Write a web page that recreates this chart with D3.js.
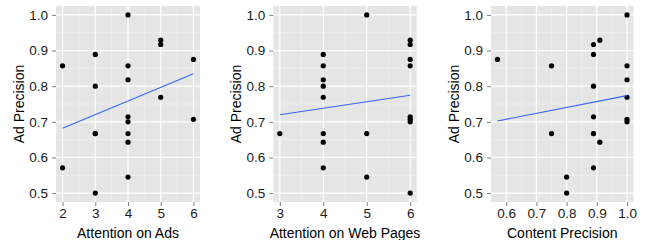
<!DOCTYPE html>
<html>
<head>
<meta charset="utf-8">
<script src="https://cdn.jsdelivr.net/npm/d3@7"></script>
<style>
  body { margin: 0; background: #fff; }
  text { font-family: "Liberation Sans", Arial, sans-serif; }
</style>
</head>
<body>
<div id="chart"></div>
<script>
// one row per participant
const adPrecision      = [1.0, 0.929, 0.917, 0.889, 0.875, 0.857, 0.857, 0.818, 0.80, 0.769,
                          0.714, 0.707, 0.70, 0.667, 0.667, 0.667, 0.643, 0.571, 0.545, 0.5];
const attentionAds     = [4, 5, 5, 3, 6, 2, 4, 4, 3, 5, 4, 6, 4, 3, 3, 4, 4, 2, 4, 3];
const attentionWeb     = [5, 6, 6, 4, 6, 4, 6, 4, 4, 4, 6, 6, 6, 3, 4, 5, 4, 4, 5, 6];
const contentPrecision = [1.0, 0.91, 0.889, 0.889, 0.571, 0.75, 1.0, 1.0, 0.889, 1.0,
                          0.889, 1.0, 1.0, 0.75, 0.889, 0.889, 0.91, 0.889, 0.8, 0.8];

const yTicks = [0.5, 0.6, 0.7, 0.8, 0.9, 1.0];
const yTitle = 'Ad Precision';

const panels = [
  { x: attentionAds, title: 'Attention on Ads', ticks: [2, 3, 4, 5, 6], fmt: d3.format('d'), left: 56, right: 200 },
  { x: attentionWeb, title: 'Attention on Web Pages', ticks: [3, 4, 5, 6], fmt: d3.format('d'), left: 273.3, right: 416.7 },
  { x: contentPrecision, title: 'Content Precision', ticks: [0.6, 0.7, 0.8, 0.9, 1.0], fmt: d3.format('.1f'), left: 491, right: 633.5 }
];

const width = 645, height = 240;
const plotTop = 6, plotBottom = 202;

const svg = d3.select('#chart').append('svg')
  .attr('width', width)
  .attr('height', height);

function expand(ext, f) {
  const pad = (ext[1] - ext[0]) * f;
  return [ext[0] - pad, ext[1] + pad];
}

function midpoints(arr) {
  const out = [];
  for (let i = 0; i < arr.length - 1; i++) out.push((arr[i] + arr[i + 1]) / 2);
  return out;
}

const y = d3.scaleLinear()
  .domain(expand(d3.extent(adPrecision), 0.05))
  .range([plotBottom, plotTop]);

panels.forEach(p => {
  const x = d3.scaleLinear()
    .domain(expand(d3.extent(p.x), 0.05))
    .range([p.left, p.right]);

  const g = svg.append('g');

  g.append('rect')
    .attr('x', p.left).attr('y', plotTop)
    .attr('width', p.right - p.left).attr('height', plotBottom - plotTop)
    .attr('fill', '#e5e5e5');

  // minor grid
  const xStep = p.ticks[1] - p.ticks[0];
  const xMinor = midpoints([p.ticks[0] - xStep, ...p.ticks, p.ticks[p.ticks.length - 1] + xStep])
    .filter(v => v >= x.domain()[0] && v <= x.domain()[1]);
  const yMinor = midpoints([0.4, ...yTicks, 1.1])
    .filter(v => v >= y.domain()[0] && v <= y.domain()[1]);

  g.selectAll('.xminor').data(xMinor).enter().append('line')
    .attr('x1', d => x(d)).attr('x2', d => x(d))
    .attr('y1', plotTop).attr('y2', plotBottom)
    .attr('stroke', '#f2f2f2').attr('stroke-width', 0.6);
  g.selectAll('.yminor').data(yMinor).enter().append('line')
    .attr('x1', p.left).attr('x2', p.right)
    .attr('y1', d => y(d)).attr('y2', d => y(d))
    .attr('stroke', '#f2f2f2').attr('stroke-width', 0.6);

  // major grid
  g.selectAll('.xmajor').data(p.ticks).enter().append('line')
    .attr('x1', d => x(d)).attr('x2', d => x(d))
    .attr('y1', plotTop).attr('y2', plotBottom)
    .attr('stroke', '#fff').attr('stroke-width', 1.2);
  g.selectAll('.ymajor').data(yTicks).enter().append('line')
    .attr('x1', p.left).attr('x2', p.right)
    .attr('y1', d => y(d)).attr('y2', d => y(d))
    .attr('stroke', '#fff').attr('stroke-width', 1.2);

  // axes
  const xAxis = g.append('g')
    .attr('transform', `translate(0,${plotBottom})`)
    .call(d3.axisBottom(x).tickValues(p.ticks).tickFormat(p.fmt).tickSize(4).tickPadding(2));
  const yAxis = g.append('g')
    .attr('transform', `translate(${p.left},0)`)
    .call(d3.axisLeft(y).tickValues(yTicks).tickFormat(d3.format('.1f')).tickSize(4).tickPadding(4));
  [xAxis, yAxis].forEach(a => {
    a.select('.domain').remove();
    a.selectAll('line').attr('stroke', '#7f7f7f');
    a.selectAll('text').attr('fill', '#1a1a1a').style('font-size', '13.5px');
  });

  // points
  const rows = p.x.map((v, i) => [v, adPrecision[i]]);
  g.selectAll('circle').data(rows).enter().append('circle')
    .attr('cx', d => x(d[0])).attr('cy', d => y(d[1]))
    .attr('r', 2.6).attr('fill', '#000');

  // linear fit
  const mx = d3.mean(rows, d => d[0]), my = d3.mean(rows, d => d[1]);
  const slope = d3.sum(rows, d => (d[0] - mx) * (d[1] - my)) / d3.sum(rows, d => (d[0] - mx) ** 2);
  const xr = d3.extent(p.x);
  const fit = xr.map(v => [v, my + slope * (v - mx)]);
  g.append('path')
    .datum(fit)
    .attr('d', d3.line().x(d => x(d[0])).y(d => y(d[1])))
    .attr('fill', 'none').attr('stroke', '#3366ff').attr('stroke-width', 1.1);

  // titles
  g.append('text')
    .attr('x', (p.left + p.right) / 2).attr('y', 237.5)
    .attr('text-anchor', 'middle')
    .style('font-size', '14px').attr('fill', '#000')
    .text(p.title);
  g.append('text')
    .attr('transform', `translate(${p.left - 32},${(plotTop + plotBottom) / 2}) rotate(-90)`)
    .attr('text-anchor', 'middle')
    .style('font-size', '14px').attr('fill', '#000')
    .text(yTitle);
});
</script>
</body>
</html>
